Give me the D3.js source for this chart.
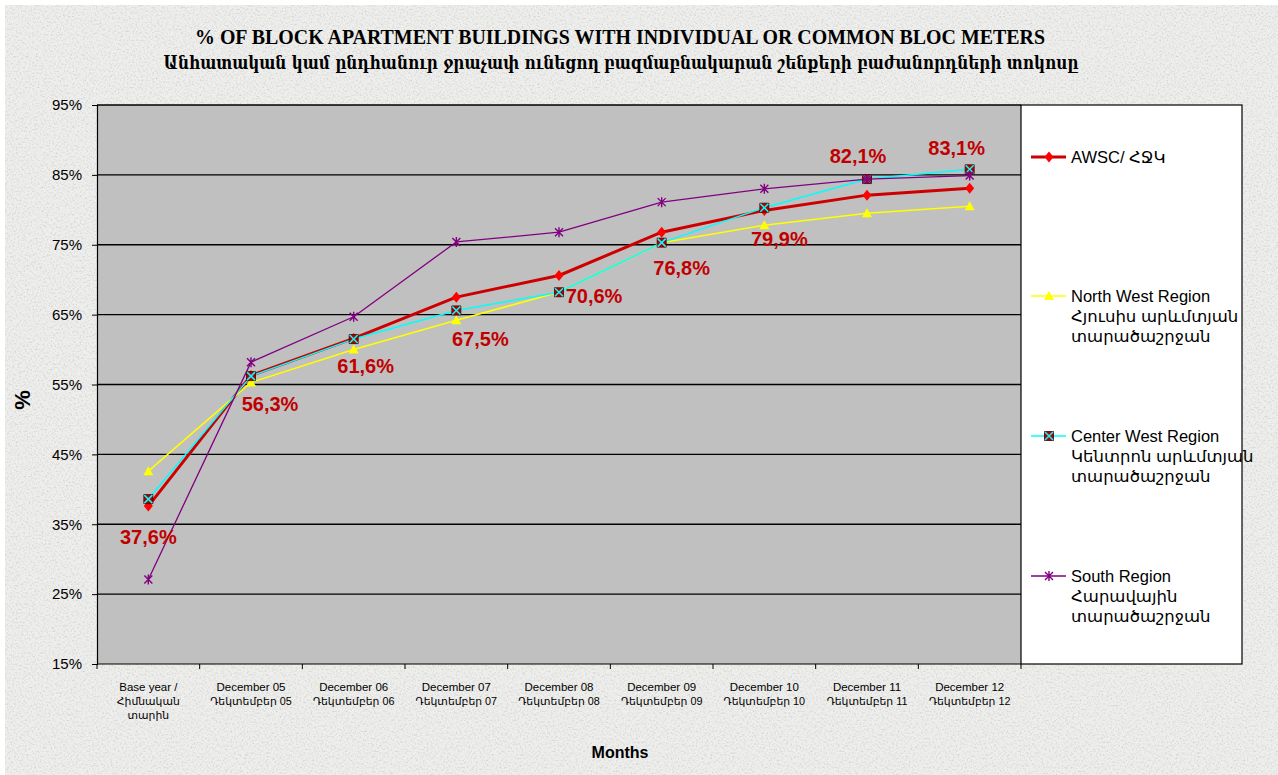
<!DOCTYPE html>
<html><head><meta charset="utf-8">
<script src="https://cdn.jsdelivr.net/npm/d3@7"></script>
<style>body{margin:0;padding:0;overflow:hidden;background:#ffffff}</style>
</head><body>
<svg id="chart" width="1278" height="775"></svg>
<script>
// ---------- DATA ----------
const categories = ["Base year / Հիմնական տարին","December 05","December 06","December 07","December 08","December 09","December 10","December 11","December 12"];
const categoryLines = [
  ["Base year /","Հիմնական","տարին"],
  ["December 05","Դեկտեմբեր 05"],
  ["December 06","Դեկտեմբեր 06"],
  ["December 07","Դեկտեմբեր 07"],
  ["December 08","Դեկտեմբեր 08"],
  ["December 09","Դեկտեմբեր 09"],
  ["December 10","Դեկտեմբեր 10"],
  ["December 11","Դեկտեմբեր 11"],
  ["December 12","Դեկտեմբեր 12"]
];
const awsc       = [37.6, 56.3, 61.6, 67.5, 70.6, 76.8, 79.9, 82.1, 83.1];
const northWest  = [42.6, 55.3, 60.0, 64.2, 68.2, 75.3, 77.8, 79.5, 80.5];
const centerWest = [38.6, 56.2, 61.5, 65.6, 68.2, 75.3, 80.3, 84.4, 85.8];
const south      = [27.1, 58.2, 64.7, 75.4, 76.8, 81.1, 83.0, 84.4, 84.9];
const awscLabels = ["37,6%","56,3%","61,6%","67,5%","70,6%","76,8%","79,9%","82,1%","83,1%"];
const yTicks = [15, 25, 35, 45, 55, 65, 75, 85, 95];
const legendNames = [
  ["AWSC/ ՀՋԿ"],
  ["North West Region","Հյուսիս արևմտյան","տարածաշրջան"],
  ["Center West Region","Կենտրոն արևմտյան","տարածաշրջան"],
  ["South Region","Հարավային","տարածաշրջան"]
];
const titleLine1 = "% OF BLOCK APARTMENT BUILDINGS WITH INDIVIDUAL OR COMMON BLOC METERS";
const titleLine2 = "Անհատական կամ ընդհանուր ջրաչափ ունեցող բազմաբնակարան շենքերի բաժանորդների տոկոսը";

// ---------- LAYOUT ----------
const W = 1278, H = 775;
const plot = {left: 97, right: 1021, top: 105, bottom: 664};
const svg = d3.select("#chart");
const sans = "Arial, 'Liberation Sans', 'DejaVu Sans', sans-serif";

// background texture
const defs = svg.append("defs");
const f = defs.append("filter").attr("id","granite").attr("x",0).attr("y",0).attr("width","100%").attr("height","100%");
f.append("feTurbulence").attr("type","fractalNoise").attr("baseFrequency",0.55).attr("numOctaves",3).attr("seed",7).attr("result","n");
f.append("feColorMatrix").attr("in","n").attr("type","matrix")
 .attr("values","0 0 0 0 0.62  0 0 0 0 0.62  0 0 0 0 0.61  -2.4 0 0 0 1.28").attr("result","g");
f.append("feComposite").attr("in","g").attr("in2","SourceGraphic").attr("operator","in");
svg.append("rect").attr("width",W).attr("height",H).attr("fill","#ffffff");
svg.append("rect").attr("x",5).attr("y",5).attr("width",W-5).attr("height",H-5).attr("fill","#eeeeec");
svg.append("rect").attr("x",5).attr("y",5).attr("width",W-5).attr("height",H-5).attr("fill","#fff").attr("filter","url(#granite)").attr("opacity",0.85);

const x = d3.scaleBand().domain(categories).range([plot.left, plot.right]).padding(0);
const cx = i => x(categories[i]) + x.bandwidth()/2;
const y = d3.scaleLinear().domain([15,95]).range([plot.bottom, plot.top]);

// plot area
svg.append("rect").attr("x",plot.left).attr("y",plot.top).attr("width",plot.right-plot.left).attr("height",plot.bottom-plot.top).attr("fill","#c0c0c0");
// gridlines
svg.append("g").selectAll("line").data(yTicks.filter(t=>t>15)).join("line")
  .attr("x1",plot.left).attr("x2",plot.right).attr("y1",d=>y(d)).attr("y2",d=>y(d))
  .attr("stroke","#000").attr("stroke-width",1.3);

// Y axis
const yAxis = svg.append("g").attr("transform",`translate(${plot.left},0)`)
  .call(d3.axisLeft(y).tickValues(yTicks).tickFormat(d=>d+"%").tickSize(5).tickPadding(10));
yAxis.select(".domain").attr("stroke","#000").attr("stroke-width",1.2);
yAxis.selectAll("text").attr("font-family",sans).attr("font-size",15).attr("fill","#000");

// X axis
svg.append("line").attr("x1",plot.left).attr("x2",plot.right).attr("y1",plot.bottom).attr("y2",plot.bottom).attr("stroke","#000").attr("stroke-width",1.2);
const boundaries = categories.map(c=>x(c)).concat([plot.right]);
svg.append("g").selectAll("line").data(boundaries).join("line")
  .attr("x1",d=>d).attr("x2",d=>d).attr("y1",plot.bottom).attr("y2",plot.bottom+5).attr("stroke","#000");
const xl = svg.append("g").selectAll("text").data(categoryLines).join("text")
  .attr("font-family",sans).attr("font-size",11.5).attr("fill","#000").attr("text-anchor","middle")
  .attr("transform",(d,i)=>`translate(${cx(i)},${plot.bottom+27})`);
xl.selectAll("tspan").data(d=>d).join("tspan").attr("x",0).attr("dy",(d,i)=>i===0?0:14)
  .attr("font-size",(d,i)=>i===0?11.5:10.8).text(d=>d);

// axis titles
svg.append("text").attr("x",620).attr("y",758).attr("text-anchor","middle").attr("font-family",sans).attr("font-weight","bold").attr("font-size",16).text("Months");
svg.append("text").attr("transform","translate(30,400) rotate(-90)").attr("text-anchor","middle").attr("font-family",sans).attr("font-weight","bold").attr("font-size",22).text("%");

// titles
svg.append("text").attr("x",620).attr("y",44).attr("text-anchor","middle")
  .attr("font-family","'Liberation Serif','Times New Roman',serif").attr("font-weight","bold").attr("font-size",21)
  .attr("textLength",850).attr("lengthAdjust","spacingAndGlyphs").text(titleLine1);
svg.append("text").attr("x",621).attr("y",69).attr("text-anchor","middle")
  .attr("font-family","'DejaVu Serif',serif").attr("font-weight","bold").attr("font-size",18)
  .attr("textLength",915).attr("lengthAdjust","spacingAndGlyphs").text(titleLine2);

// ---------- SERIES ----------
const line = d3.line().x((d,i)=>cx(i)).y(d=>y(d));
const diamond = "M0,-5.5L4.5,0L0,5.5L-4.5,0Z";
const triangle = "M0,-5L5,4L-5,4Z";
const square = "M-4.5,-4.5H4.5V4.5H-4.5Z";
const crossX = "M-4,-4L4,4M4,-4L-4,4";
const asterisk = "M-4,-4L4,4M4,-4L-4,4M0,-5V5";

const series = [
  {values: awsc, color:"#cc0000", width:3},
  {values: northWest, color:"#ffff00", width:1.5},
  {values: centerWest, color:"#00ffff", width:1.5},
  {values: south, color:"#800080", width:1.3}
];
function drawMarker(g, k){
  if(k===0) g.append("path").attr("d",diamond).attr("fill","#ff0000");
  if(k===1) g.append("path").attr("d",triangle).attr("fill","#ffff00");
  if(k===2){ g.append("path").attr("d",square).attr("fill","#b00000").attr("stroke","#400000").attr("stroke-width",0.8);
             g.append("path").attr("d",crossX).attr("stroke","#00ffff").attr("stroke-width",1.5).attr("fill","none"); }
  if(k===3) g.append("path").attr("d",asterisk).attr("stroke","#800080").attr("stroke-width",1.4).attr("fill","none");
}
series.forEach((s,k)=>{
  const g = svg.append("g");
  g.append("path").datum(s.values).attr("d",line).attr("fill","none").attr("stroke",s.color).attr("stroke-width",s.width).attr("stroke-linejoin","round");
  s.values.forEach((v,i)=>{ drawMarker(g.append("g").attr("transform",`translate(${cx(i)},${y(v)})`), k); });
});

// data labels for AWSC
const labelOffsets = [[0,38],[19,36],[12,35],[24,49],[35,28],[20,43],[15,35],[-9,-32],[-13,-33]];
svg.append("g").selectAll("text").data(awscLabels).join("text")
  .attr("x",(d,i)=>cx(i)+labelOffsets[i][0]).attr("y",(d,i)=>y(awsc[i])+labelOffsets[i][1])
  .attr("text-anchor","middle").attr("font-family",sans).attr("font-weight","bold").attr("font-size",20)
  .attr("fill","#c00000").text(d=>d);

// ---------- LEGEND ----------
svg.append("rect").attr("x",plot.right).attr("y",plot.top).attr("width",221).attr("height",plot.bottom-plot.top)
  .attr("fill","#fff").attr("stroke","#000").attr("stroke-width",1.2);
const legendY = [157, 296, 436, 576];
legendNames.forEach((names,k)=>{
  const g = svg.append("g").attr("transform",`translate(${plot.right},${legendY[k]})`);
  g.append("line").attr("x1",10).attr("x2",45).attr("y1",0).attr("y2",0).attr("stroke",series[k].color).attr("stroke-width",series[k].width);
  drawMarker(g.append("g").attr("transform","translate(28,0)"), k);
  const t = g.append("text").attr("x",50).attr("y",6).attr("font-family",sans).attr("font-size",16.5).attr("fill","#000");
  t.selectAll("tspan").data(names).join("tspan").attr("x",50).attr("dy",(d,i)=>i===0?0:20).text(d=>d);
});
</script>
</body></html>
